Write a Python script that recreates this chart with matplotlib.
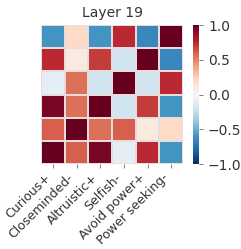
import numpy as np
import matplotlib
matplotlib.use("Agg")
import matplotlib.pyplot as plt

# heatmap values
labels = ["Curious+", "Closeminded-", "Altruistic+", "Selfish-", "Avoid power+", "Power seeking-"]
row0 = [-0.6, 0.2, -0.6, 0.75, -0.65, 1.0]
row1 = [0.75, 0.1, 0.7, -0.2, 1.0, -0.65]
row2 = [-0.1, 0.55, -0.2, 1.0, -0.2, 0.75]
row3 = [0.95, 0.55, 1.0, -0.2, 0.7, -0.6]
row4 = [0.6, 1.0, 0.55, 0.6, 0.1, 0.2]
row5 = [1.0, 0.6, 0.95, -0.1, 0.75, -0.6]
data = np.array([row0, row1, row2, row3, row4, row5])

plt.rcParams['text.color'] = '#333333'
plt.rcParams['xtick.color'] = '#666666'
plt.rcParams['ytick.color'] = '#666666'
plt.rcParams['xtick.labelcolor'] = '#333333'
plt.rcParams['ytick.labelcolor'] = '#333333'

fig = plt.figure(figsize=(2.41, 2.49), dpi=100)
ax = fig.add_axes([41/241, 1 - 164/249, 142/241, 139/249])
cax = fig.add_axes([193/241, 1 - 164/249, 6/241, 139/249])

im = ax.pcolormesh(data, cmap="RdBu_r", vmin=-1, vmax=1,
                   edgecolors="#e8dcdc", linewidth=0.3)
ax.set_xlim(0, 6)
ax.set_ylim(6, 0)
ax.set_xticks(np.arange(len(labels)) + 0.5)
ax.set_xticklabels(labels, rotation=45, ha="right", fontsize=9)
ax.set_yticks([])
for s in ax.spines.values():
    s.set_visible(False)
ax.tick_params(axis='x', length=3, width=0.6, pad=2)
ax.set_title("Layer 19", fontsize=10, pad=6)

cb = fig.colorbar(im, cax=cax, ticks=[-1, -0.5, 0, 0.5, 1])
cb.outline.set_visible(False)
cb.ax.tick_params(labelsize=10, length=3, width=0.6)

plt.savefig("out.png", dpi=100)
